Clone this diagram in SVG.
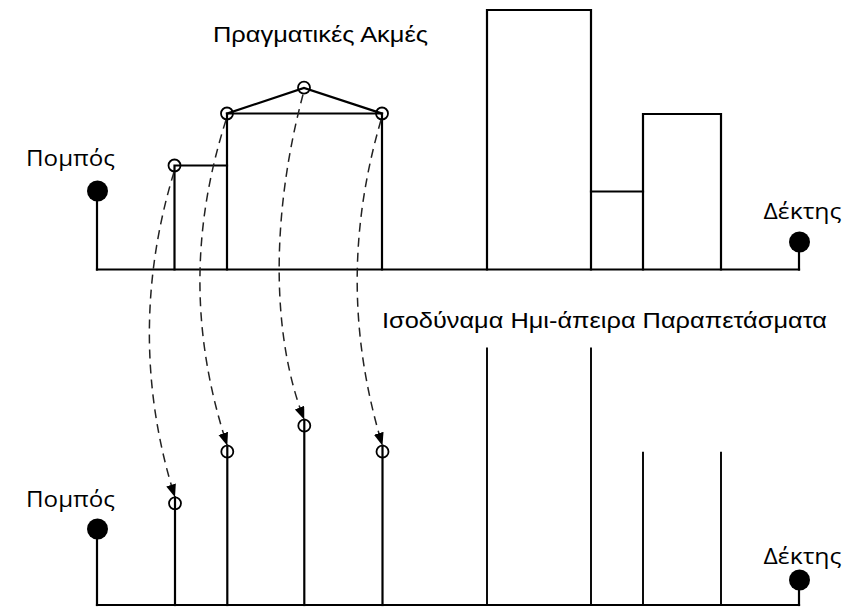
<svg xmlns="http://www.w3.org/2000/svg" width="845" height="607" viewBox="0 0 845 607">
  <style>
    .ln { stroke: #000; stroke-width: 2.2; fill: none; stroke-linecap: square; }
    .thin { stroke: #000; stroke-width: 1.9; fill: none; }
    .pt { stroke: #000; stroke-width: 1.8; fill: none; }
    .dot { fill: #000; }
    .lbl { font-family: "Liberation Sans", Arial, sans-serif; font-size: 22px; fill: #000; }
    .end { font-family: "Open Sans", "Noto Sans", sans-serif; font-size: 21px; fill: #000; }
    .dash { stroke: #222; stroke-width: 1.5; fill: none; stroke-dasharray: 9 6; }
  </style>
  <defs>
    <marker id="arr" markerUnits="userSpaceOnUse" markerWidth="16" markerHeight="12" refX="13" refY="5" orient="auto">
      <path d="M0,0 L13,5 L0,10 z" fill="#000"/>
    </marker>
  </defs>
  <rect width="845" height="607" fill="#fff"/>

  <!-- top: real edges -->
  <g id="top-baseline">
    <path class="ln" d="M97,269.5 H799"/>
  </g>
  <g id="top-transmitter">
    <text class="end" x="26" y="165.5" textLength="89" lengthAdjust="spacingAndGlyphs">Πομπός</text>
    <path class="ln" d="M97,192 V269.5"/>
    <circle class="dot" cx="97.5" cy="191" r="10.5"/>
  </g>
  <g id="top-receiver">
    <text class="end" x="763.5" y="218.5" textLength="78" lengthAdjust="spacingAndGlyphs">Δέκτης</text>
    <path class="ln" d="M799,243 V269.5"/>
    <circle class="dot" cx="799.5" cy="242" r="10.5"/>
  </g>
  <g id="real-edges-label">
    <text class="lbl" x="213" y="42.3" textLength="215" lengthAdjust="spacingAndGlyphs">Πραγματικές Ακμές</text>
  </g>
  <g id="obstacle-1">
    <path class="ln" d="M174.5,269.5 V165.5 H227"/>
  </g>
  <g id="obstacle-2">
    <path class="ln" d="M227,269.5 V113.5 H382 V269.5"/>
    <path class="ln" d="M227,113.5 L304,88 L382,113.5"/>
  </g>
  <g id="obstacle-3">
    <path class="ln" d="M487,269.5 V10 H591 V269.5"/>
  </g>
  <g id="obstacle-4">
    <path class="ln" d="M591,191.5 H643"/>
  </g>
  <g id="obstacle-5">
    <path class="ln" d="M643,269.5 V114 H721 V269.5"/>
  </g>
  <g id="top-edge-points">
    <circle class="pt" cx="174.5" cy="165.5" r="6"/>
    <circle class="pt" cx="227" cy="113.5" r="6"/>
    <circle class="pt" cx="304" cy="87.7" r="6"/>
    <circle class="pt" cx="382" cy="113.5" r="6"/>
  </g>

  <!-- bottom: equivalent half-infinite screens -->
  <g id="bottom-baseline">
    <path class="ln" d="M97,605 H799"/>
  </g>
  <g id="bottom-transmitter">
    <text class="end" x="26" y="506.5" textLength="89" lengthAdjust="spacingAndGlyphs">Πομπός</text>
    <path class="ln" d="M97,530 V605"/>
    <circle class="dot" cx="97.5" cy="529" r="10.5"/>
  </g>
  <g id="bottom-receiver">
    <text class="end" x="763.5" y="563.5" textLength="78" lengthAdjust="spacingAndGlyphs">Δέκτης</text>
    <path class="ln" d="M799,581 V605"/>
    <circle class="dot" cx="799.5" cy="580" r="10.5"/>
  </g>
  <g id="screens-label">
    <text class="lbl" x="382" y="328.3" textLength="445" lengthAdjust="spacingAndGlyphs">Ισοδύναμα Ημι-άπειρα Παραπετάσματα</text>
  </g>
  <g id="screen-1">
    <path class="ln" d="M175,497.3 V605"/>
    <circle class="pt" cx="175" cy="503.3" r="6"/>
  </g>
  <g id="screen-2">
    <path class="ln" d="M227.3,445.7 V605"/>
    <circle class="pt" cx="227.3" cy="451.7" r="6"/>
  </g>
  <g id="screen-3">
    <path class="ln" d="M304.3,419.7 V605"/>
    <circle class="pt" cx="304.3" cy="425.7" r="6"/>
  </g>
  <g id="screen-4">
    <path class="ln" d="M382.5,445.7 V605"/>
    <circle class="pt" cx="382.5" cy="451.7" r="6"/>
  </g>
  <g id="screen-5">
    <path class="thin" d="M487,347.5 V605"/>
  </g>
  <g id="screen-6">
    <path class="thin" d="M591,347.5 V605"/>
  </g>
  <g id="screen-7">
    <path class="thin" d="M643,451.7 V605"/>
  </g>
  <g id="screen-8">
    <path class="thin" d="M721,451.7 V605"/>
  </g>

  <g id="connectors">
    <path class="dash" marker-end="url(#arr)" d="M174,172 C141,280 141,390 175,497.3"/>
    <path class="dash" marker-end="url(#arr)" d="M226,120 C191,230 191,335 227.3,445.7"/>
    <path class="dash" marker-end="url(#arr)" d="M303,94.5 C271,215 271,335 304.3,419.7"/>
    <path class="dash" marker-end="url(#arr)" d="M381,120 C349,230 349,335 382.5,445.7"/>
  </g>
</svg>
